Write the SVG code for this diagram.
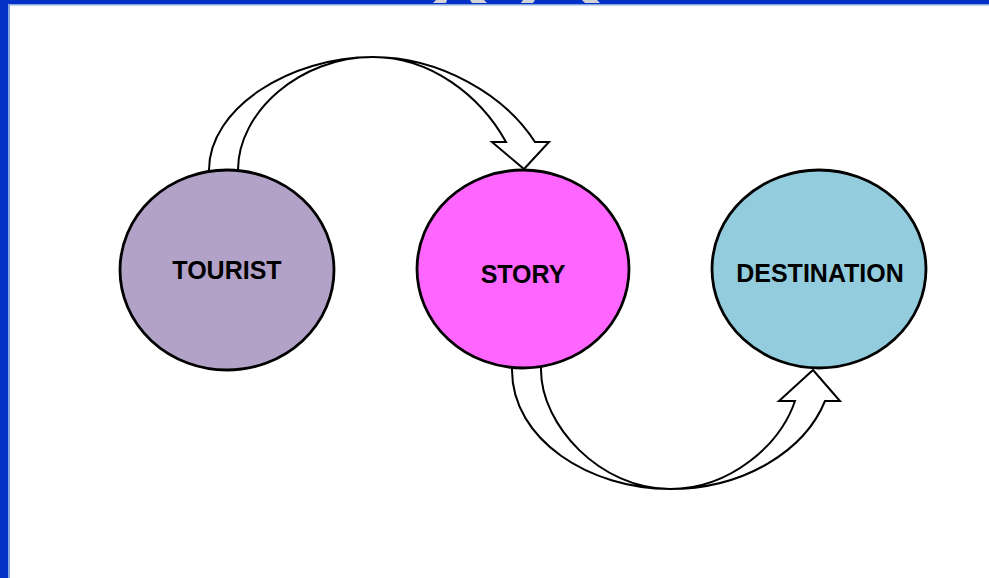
<svg xmlns="http://www.w3.org/2000/svg" width="989" height="578" viewBox="0 0 989 578">
  <style>
    .frame { fill: #0432c8; }
    .frame-edge { fill: #86a8dc; }
    .shard { fill: #d4d4d4; }
    .arrow { fill: #ffffff; stroke: #000000; stroke-width: 2; stroke-linejoin: miter; }
    .node { stroke: #000000; stroke-width: 2.8; }
    .label { font-family: "Liberation Sans", Arial, sans-serif; font-weight: bold; font-size: 25px; fill: #000000; text-anchor: middle; }
  </style>

  <!-- page background and slide frame -->
  <rect x="0" y="0" width="989" height="578" fill="#ffffff"/>
  <rect class="frame" x="0" y="0" width="989" height="4"/>
  <rect class="frame" x="0" y="0" width="8" height="578"/>
  <rect class="frame-edge" x="8" y="4" width="981" height="1.5"/>
  <rect class="frame-edge" x="8" y="4" width="2" height="574"/>
  <!-- title fragments peeking over the top edge -->
  <polygon class="shard" points="436,0 447,0 446,3 433,3"/>
  <polygon class="shard" points="470,0 484,0 487,3 472,3"/>
  <polygon class="shard" points="523,0 535,0 533,3 521,3"/>
  <polygon class="shard" points="582,0 597,0 600,3 585,3"/>

  <!-- connectors: curved block arrows -->
  <g id="connectors">
    <path id="tourist-to-story" class="arrow"
          d="M209,185 L209,170 C209,108 290,57 373,57 C440,57 505,95 535,142 L549,142 L524,169 L492,142 L506,142 C480,95 430,57 373,57 C300,57 238,112 238,170 L238,185 Z"/>
    <path id="story-to-destination" class="arrow"
          d="M512,355 L512,370 C512,440 590,489 670,489 C745,489 805,450 825,401 L840,401 L813,370 L779,401 L795,401 C780,445 730,489 670,489 C600,489 541,425 541,370 L541,355 Z"/>
  </g>

  <!-- nodes -->
  <g id="tourist">
    <ellipse class="node" cx="227" cy="270" rx="107" ry="100" fill="#b3a2c8"/>
    <text class="label" x="227" y="279">TOURIST</text>
  </g>
  <g id="story">
    <ellipse class="node" cx="523" cy="269" rx="106" ry="99" fill="#ff66ff"/>
    <text class="label" x="523" y="283">STORY</text>
  </g>
  <g id="destination">
    <ellipse class="node" cx="819" cy="269" rx="107" ry="99" fill="#93cddd"/>
    <text class="label" x="820" y="282">DESTINATION</text>
  </g>
</svg>
